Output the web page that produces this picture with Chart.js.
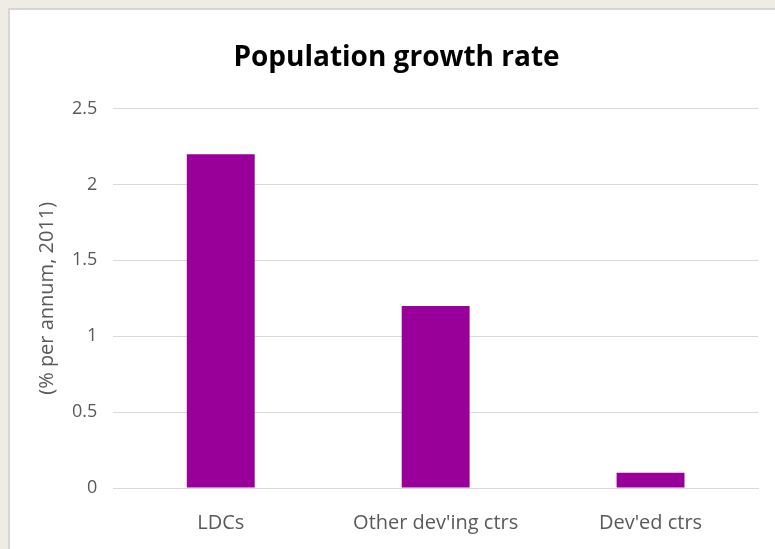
<!DOCTYPE html>
<html>
<head>
<meta charset="utf-8">
<script src="https://cdn.jsdelivr.net/npm/chart.js@4"></script>
<style>
  body { margin: 0; background: #efece6; width: 775px; height: 549px; overflow: hidden; }
  #box { position: absolute; left: 8px; top: 8px; width: 767px; height: 541px; background: #fff;
         border-top: 2px solid #d6d6d6; border-left: 2px solid #d6d6d6; box-sizing: border-box; }
</style>
</head>
<body>
<div id="box"><canvas id="myChart"></canvas></div>
<script>
const categories = ['LDCs', "Other dev'ing ctrs", "Dev'ed ctrs"];
const growthRate = [2.2, 1.2, 0.1];
const yTicks = [0, 0.5, 1, 1.5, 2, 2.5];

const ctx = document.getElementById('myChart').getContext('2d');
const chart = new Chart(ctx, {
    type: 'bar',
    data: {
        labels: categories,
        datasets: [{
            label: 'Population growth rate',
            data: growthRate,
            backgroundColor: '#990099',
            barPercentage: 0.316,
            categoryPercentage: 1
        }]
    },
    options: {
        responsive: true,
        maintainAspectRatio: false,
        animation: false,
        layout: { padding: { left: 25, right: 17, top: 0, bottom: -1 } },
        plugins: {
            legend: { display: false },
            tooltip: { enabled: false },
            title: {
                display: true,
                text: 'Population growth rate',
                color: '#000',
                font: { family: 'Open Sans', size: 28, weight: 'bold' },
                padding: { top: 31, bottom: 34 }
            }
        },
        scales: {
            x: {
                grid: { display: false },
                border: { color: '#d9d9d9', width: 1 },
                ticks: {
                    color: '#595959',
                    font: { family: 'Open Sans', size: 20 },
                    padding: 15
                }
            },
            y: {
                min: 0,
                max: 2.5,
                afterBuildTicks: axis => { axis.ticks = yTicks.map(v => ({ value: v })); },
                grid: { color: '#d9d9d9', drawTicks: false },
                border: { display: false },
                ticks: {
                    color: '#595959',
                    font: { family: 'Open Sans', size: 18 },
                    padding: 16,
                    callback: v => String(v)
                },
                title: {
                    display: true,
                    text: '(% per annum, 2011)',
                    color: '#595959',
                    font: { family: 'Open Sans', size: 20 },
                    padding: { top: 0, bottom: -3 }
                }
            }
        }
    }
});
</script>
</body>
</html>
